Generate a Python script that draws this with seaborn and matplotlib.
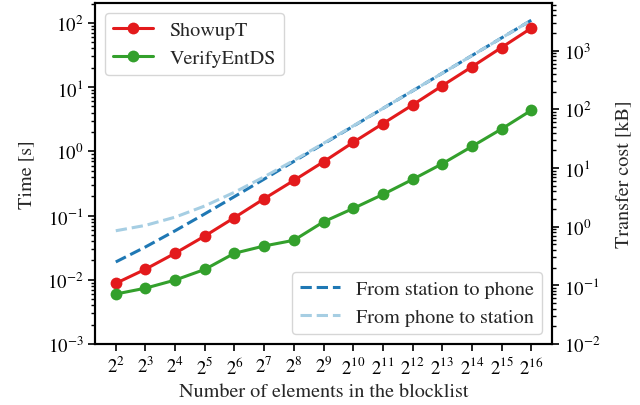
import numpy as np
import pandas as pd
import matplotlib
matplotlib.use("Agg")
import matplotlib.pyplot as plt
import matplotlib.ticker as mticker
import seaborn as sns

# ---- data ----
exponents = list(range(2, 17))
n_elements = [2 ** k for k in exponents]

showupt_time = [0.0088, 0.0146, 0.0259, 0.048, 0.093, 0.183, 0.352, 0.687,
                1.38, 2.70, 5.27, 10.5, 20.7, 41.4, 82.8]
verify_time = [0.0060, 0.0074, 0.0099, 0.0145, 0.0259, 0.0336, 0.0412, 0.0798,
               0.129, 0.213, 0.365, 0.64, 1.19, 2.23, 4.35]

station_to_phone_kb = [0.25, 0.45, 0.85, 1.65, 3.25, 6.45, 12.9, 25.7, 51.3,
                       103, 205, 410, 820, 1640, 3280]
phone_to_station_kb = [0.85, 1.05, 1.45, 2.25, 3.85, 7.05, 13.4, 26.3, 51.9,
                       103, 206, 410, 820, 1640, 3280]

time_labels = ["ShowupT", "VerifyEntDS"]
transfer_labels = ["From station to phone", "From phone to station"]

# ---- style ----
sns.set_style("ticks")
plt.rcParams["font.family"] = ["STIXGeneral", "DejaVu Serif"]
plt.rcParams["mathtext.fontset"] = "stix"
plt.rcParams["axes.linewidth"] = 1.5
plt.rcParams["xtick.major.width"] = 1.2
plt.rcParams["ytick.major.width"] = 1.2
plt.rcParams["ytick.minor.width"] = 1.0
plt.rcParams["xtick.major.size"] = 5
plt.rcParams["ytick.major.size"] = 5
plt.rcParams["ytick.minor.size"] = 3
plt.rcParams["xtick.color"] = "black"
plt.rcParams["ytick.color"] = "black"
plt.rcParams["axes.edgecolor"] = "black"

pal = sns.color_palette("Paired")
light_blue, dark_blue, dark_green, red = pal[0], pal[1], pal[3], pal[5]

TICK_FS = 13.5
LABEL_FS = 14.5
LEG_FS = 14.5

fig = plt.figure(figsize=(6.4, 4.06), dpi=100)
ax = fig.add_axes([95 / 640, 1 - 345 / 406, (552 - 95) / 640, (345 - 4) / 406])
ax2 = ax.twinx()

df_time = pd.DataFrame({
    "n": n_elements * 2,
    "time": showupt_time + verify_time,
    "method": [time_labels[0]] * len(n_elements) + [time_labels[1]] * len(n_elements),
})
df_tr = pd.DataFrame({
    "n": n_elements * 2,
    "kb": station_to_phone_kb + phone_to_station_kb,
    "direction": [transfer_labels[0]] * len(n_elements) + [transfer_labels[1]] * len(n_elements),
})

sns.lineplot(data=df_tr, x="n", y="kb", hue="direction", style="direction",
             palette=[dark_blue, light_blue], dashes=[(3.7, 1.6), (3.7, 1.6)],
             linewidth=2.2, ax=ax2, legend=True)
sns.lineplot(data=df_time, x="n", y="time", hue="method",
             palette=[red, dark_green], marker="o", markersize=8.5,
             markeredgewidth=0, linewidth=2.2, ax=ax, legend=True)

for a in (ax, ax2):
    a.set_xscale("log", base=2)
    a.set_yscale("log")

ax.set_xticks(n_elements)
ax.set_xticklabels([f"$2^{{{k}}}$" for k in exponents], fontsize=TICK_FS)
ax.xaxis.set_minor_locator(mticker.NullLocator())
ax.set_xlim(2 ** 1.3, 2 ** 16.7)

ax.set_ylim(1e-3, 10 ** 2.31)
ax2.set_ylim(1e-2, 10 ** 3.81)
ax.yaxis.set_major_locator(mticker.LogLocator(base=10, numticks=12))
ax.yaxis.set_minor_locator(mticker.LogLocator(base=10, subs=np.arange(2, 10), numticks=12))
ax2.yaxis.set_major_locator(mticker.LogLocator(base=10, numticks=12))
ax2.yaxis.set_minor_locator(mticker.LogLocator(base=10, subs=np.arange(2, 10), numticks=12))
ax.tick_params(axis="y", labelsize=TICK_FS)
ax2.tick_params(axis="y", labelsize=TICK_FS)

ax.set_xlabel("Number of elements in the blocklist", fontsize=LABEL_FS)
ax.set_ylabel("Time [s]", fontsize=LABEL_FS, labelpad=8)
ax2.set_ylabel("Transfer cost [kB]", fontsize=LABEL_FS, labelpad=11)

ax.set_zorder(ax2.get_zorder() + 1)
ax.patch.set_visible(False)

ax.legend(loc="upper left", fontsize=LEG_FS, title=None)
ax2.legend(loc="lower right", fontsize=LEG_FS, title=None)

fig.savefig("out.png", dpi=100)
